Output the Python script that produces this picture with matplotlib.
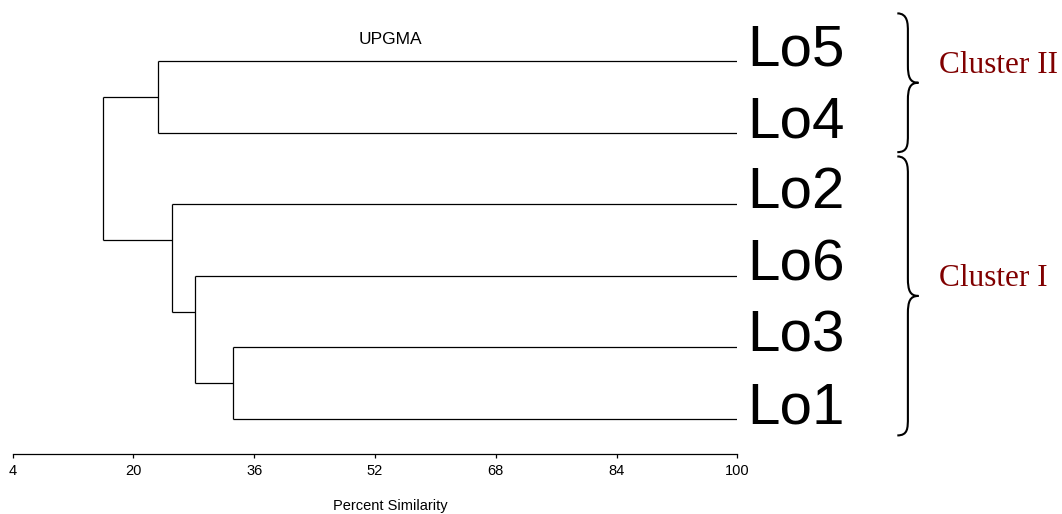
import matplotlib
matplotlib.use("Agg")
import matplotlib.pyplot as plt
from matplotlib.path import Path
from matplotlib.patches import PathPatch

plt.rcParams['font.family'] = ['Liberation Sans', 'DejaVu Sans']

# leaf order, top to bottom
leaves = ['Lo5', 'Lo4', 'Lo2', 'Lo6', 'Lo3', 'Lo1']

# UPGMA merges: (node, left child, right child, percent similarity)
merges = [
    ('n1', 'Lo3', 'Lo1', 33.2),
    ('n2', 'Lo6', 'n1', 28.15),
    ('n3', 'Lo2', 'n2', 25.15),
    ('n4', 'Lo5', 'Lo4', 23.25),
    ('root', 'n4', 'n3', 16.0),
]

xticks = [4, 20, 36, 52, 68, 84, 100]

clusters = [('Cluster II', ['Lo5', 'Lo4']),
            ('Cluster I', ['Lo2', 'Lo6', 'Lo3', 'Lo1'])]

fig = plt.figure(figsize=(10.62, 5.14), dpi=100)
ax = fig.add_axes([0.01196, 0.1167, 0.6823, 0.8833])
ax.set_xlim(4, 100)
ax.set_ylim(5.49, -0.857)

# y position of each leaf / node and the leaves under each node
ypos = {name: i for i, name in enumerate(leaves)}
members = {name: [i] for i, name in enumerate(leaves)}
height = {name: 100.0 for name in leaves}
parent = {}
for node, a, b, sim in merges:
    members[node] = members[a] + members[b]
    height[node] = sim
    parent[a] = node
    parent[b] = node
    if node != 'root':
        ypos[node] = min(members[node]) + 0.5

lc = dict(color='black', lw=0.9, solid_capstyle='butt')
for node, a, b, sim in merges:
    ax.plot([sim, sim], [ypos[a], ypos[b]], **lc)
for name, p in parent.items():
    ax.plot([height[p], height[name]], [ypos[name], ypos[name]], **lc)

for i, name in enumerate(leaves):
    ax.text(101.3, i + 0.06, name, fontsize=42, ha='left', va='baseline')

ax.text(54.0, -0.31, 'UPGMA', fontsize=12.5, ha='center', va='center')
ax.text(54.0, 6.22, 'Percent Similarity', fontsize=10.5, ha='center',
        va='center', clip_on=False)

# axis
for s in ['top', 'right', 'left']:
    ax.spines[s].set_visible(False)
ax.spines['bottom'].set_linewidth(0.9)
ax.set_yticks([])
ax.set_xticks(xticks)
ax.set_xticklabels([str(t) for t in xticks])
ax.tick_params(axis='x', direction='out', length=3, width=0.9, pad=4.5,
               labelsize=10.5)


def brace(ax, y0, y1, x0, w):
    # curly brace opening to the left, tip pointing right
    ym = (y0 + y1) / 2
    xm = x0 + w * 0.5
    xt = x0 + w
    r = 0.25
    verts = [
        (x0, y0), (xm, y0), (xm, y0 + r * 0.6), (xm, y0 + r),
        (xm, ym - r),
        (xm, ym - r * 0.3), (xm + w * 0.1, ym), (xt, ym),
        (xm + w * 0.1, ym), (xm, ym + r * 0.3), (xm, ym + r),
        (xm, y1 - r),
        (xm, y1 - r * 0.4), (xm, y1), (x0, y1),
    ]
    codes = [Path.MOVETO, Path.CURVE4, Path.CURVE4, Path.CURVE4,
             Path.LINETO,
             Path.CURVE4, Path.CURVE4, Path.CURVE4,
             Path.CURVE4, Path.CURVE4, Path.CURVE4,
             Path.LINETO,
             Path.CURVE4, Path.CURVE4, Path.CURVE4]
    ax.add_patch(PathPatch(Path(verts, codes), fill=False, lw=1.5,
                           ec='black', clip_on=False))
    return ym


pads = [(0.67, 0.27), (0.67, 0.23)]
for (label, names), (pt, pb) in zip(clusters, pads):
    idx = [leaves.index(n) for n in names]
    tip = brace(ax, min(idx) - pt, max(idx) + pb, 121.2, 2.8)
    ax.text(126.7, tip - 0.24, label, fontsize=22.5, color='#800000',
            family='Liberation Serif', ha='left', va='center', clip_on=False)

fig.savefig('out.png', dpi=100)
